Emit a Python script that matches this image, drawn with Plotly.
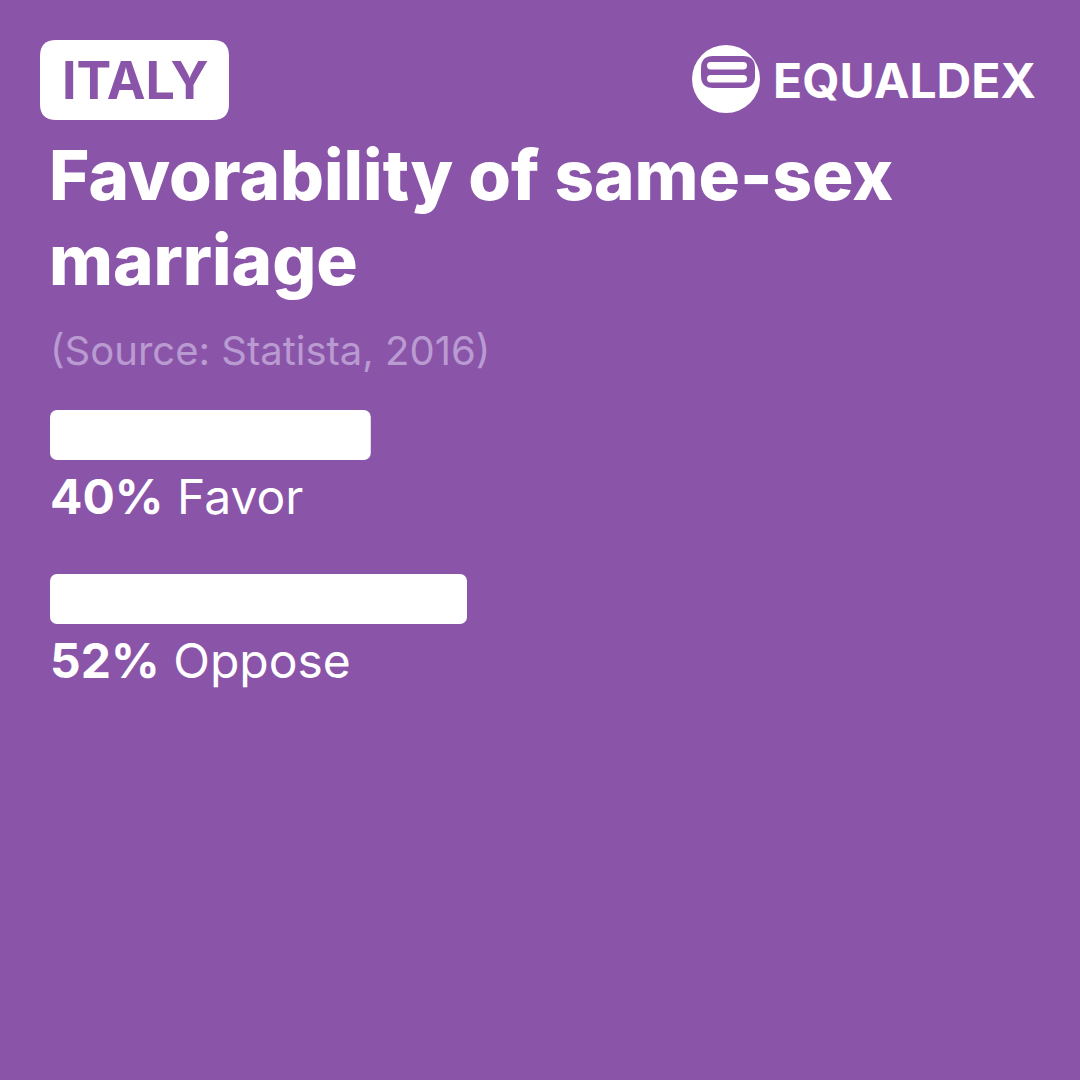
import plotly.graph_objects as go

# ---- data ----
country = "ITALY"
title_lines = ["Favorability of same-sex", "marriage"]
source = "(Source: Statista, 2016)"
categories = ["Favor", "Oppose"]
values = [40, 52]

BG = "#8A55A9"
WHITE = "#FFFFFF"
SOURCE_COL = "#BA9BD1"
FONT = "Inter"
W = H = 1080

PX_PER_PCT = 417 / 52.0
X0_PX = 50
BAR_PITCH = 164.0
BAR1_CY = 435.0


def X(px):
    return px / W


def Y(py):
    return 1 - py / H


def rrect(x0, y0, x1, y1, r):
    p = []
    p.append(f"M {X(x0 + r)},{Y(y0)}")
    p.append(f"L {X(x1 - r)},{Y(y0)}")
    p.append(f"Q {X(x1)},{Y(y0)} {X(x1)},{Y(y0 + r)}")
    p.append(f"L {X(x1)},{Y(y1 - r)}")
    p.append(f"Q {X(x1)},{Y(y1)} {X(x1 - r)},{Y(y1)}")
    p.append(f"L {X(x0 + r)},{Y(y1)}")
    p.append(f"Q {X(x0)},{Y(y1)} {X(x0)},{Y(y1 - r)}")
    p.append(f"L {X(x0)},{Y(y0 + r)}")
    p.append(f"Q {X(x0)},{Y(y0)} {X(x0 + r)},{Y(y0)}")
    p.append("Z")
    return " ".join(p)


fig = go.Figure()

# left part (rounded on the left end) and right part (rounded on the right end)
fig.add_trace(go.Bar(
    y=categories, x=[-v * 0.5 for v in values], base=[v * 0.5 for v in values],
    orientation="h", marker=dict(color=WHITE, line=dict(width=0), cornerradius=7),
    width=50 / BAR_PITCH, hoverinfo="skip", showlegend=False,
))
fig.add_trace(go.Bar(
    y=categories, x=[v * 0.75 for v in values], base=[v * 0.25 for v in values],
    orientation="h", marker=dict(color=WHITE, line=dict(width=0), cornerradius=7),
    width=50 / BAR_PITCH, hoverinfo="skip", showlegend=False,
))

annotations = []
label_offset = (496 - BAR1_CY) / BAR_PITCH
for i, (cat, v) in enumerate(zip(categories, values)):
    annotations.append(dict(
        xref="x", yref="y", x=0, y=i + label_offset, xanchor="left", yanchor="middle",
        xshift=-2, text=f"<b>{v}%</b> {cat}", showarrow=False,
        font=dict(family=FONT, size=48, color=WHITE),
    ))

annotations.append(dict(xref="paper", yref="paper", x=X(47), y=Y(175), xanchor="left",
                        yanchor="middle", text=title_lines[0], showarrow=False,
                        font=dict(family=FONT, size=69, color=WHITE, weight=800)))
annotations.append(dict(xref="paper", yref="paper", x=X(47), y=Y(260), xanchor="left",
                        yanchor="middle", text=title_lines[1], showarrow=False,
                        font=dict(family=FONT, size=69, color=WHITE, weight=800)))
annotations.append(dict(xref="paper", yref="paper", x=X(48), y=Y(350), xanchor="left",
                        yanchor="middle", text=source, showarrow=False,
                        font=dict(family=FONT, size=40, color=SOURCE_COL)))
annotations.append(dict(xref="paper", yref="paper", x=X(134.5), y=Y(81), xanchor="center",
                        yanchor="middle", text=country, showarrow=False,
                        font=dict(family=FONT, size=52, color=BG, weight=700)))
annotations.append(dict(xref="paper", yref="paper", x=X(771), y=Y(80), xanchor="left",
                        yanchor="middle", text="EQUALDEX", showarrow=False,
                        font=dict(family=FONT, size=48, color=WHITE, weight=700)))

shapes = [
    dict(type="path", xref="paper", yref="paper", path=rrect(40, 40, 229, 120, 16),
         fillcolor=WHITE, line=dict(width=0), layer="below"),
    dict(type="circle", xref="paper", yref="paper", x0=X(692), x1=X(760), y0=Y(113), y1=Y(45),
         fillcolor=WHITE, line=dict(width=0), layer="below"),
    dict(type="path", xref="paper", yref="paper", path=rrect(701, 56, 755, 88, 12),
         fillcolor=BG, line=dict(width=0), layer="above"),
    dict(type="path", xref="paper", yref="paper", path=rrect(707, 62, 747, 69.5, 3.7),
         fillcolor=WHITE, line=dict(width=0), layer="above"),
    dict(type="path", xref="paper", yref="paper", path=rrect(707, 75, 747, 82.5, 3.7),
         fillcolor=WHITE, line=dict(width=0), layer="above"),
]

fig.update_layout(
    width=W, height=H,
    margin=dict(l=0, r=0, t=0, b=0),
    paper_bgcolor=BG, plot_bgcolor=BG,
    barmode="overlay",
    xaxis=dict(range=[-X0_PX / PX_PER_PCT, (W - X0_PX) / PX_PER_PCT], visible=False,
               fixedrange=True),
    yaxis=dict(type="category", categoryorder="array", categoryarray=categories,
               range=[(H - BAR1_CY) / BAR_PITCH, -BAR1_CY / BAR_PITCH], visible=False,
               fixedrange=True),
    annotations=annotations,
    shapes=shapes,
    showlegend=False,
)

fig.write_html("out.html", config={"displayModeBar": False},
               post_script="document.body.style.margin='0';document.body.style.background='" + BG + "';")
